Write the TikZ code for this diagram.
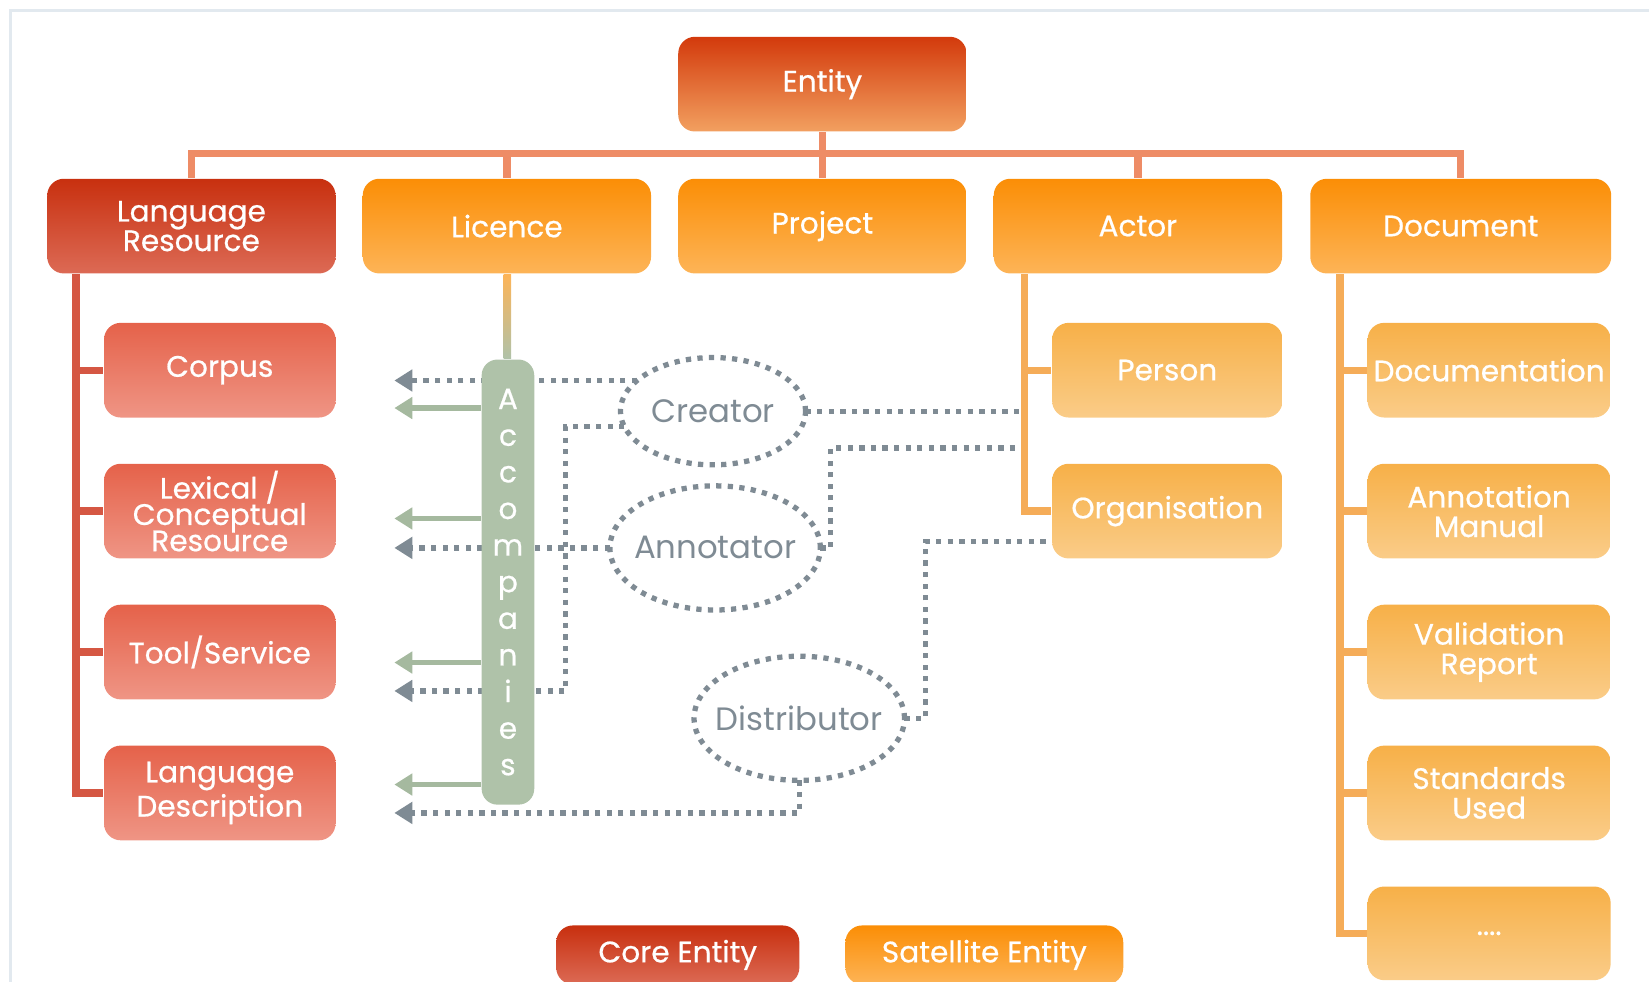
\documentclass[tikz,border=0pt]{standalone}
\usepackage{fontspec}
\setmainfont{Poppins}
\newfontfamily\boitefont{Poppins}[FakeBold=0.6]
\newcommand\serre{\lineskiplimit-5pt\relax}
\usetikzlibrary{arrows.meta,shapes.geometric,backgrounds}

\definecolor{rougeH}{HTML}{D33A0C}
\definecolor{rougeB}{HTML}{F2A060}
\definecolor{coeurH}{HTML}{C8300F}
\definecolor{coeurB}{HTML}{DC6A55}
\definecolor{satH}{HTML}{FB8E06}
\definecolor{satB}{HTML}{FDB457}
\definecolor{filsRH}{HTML}{E5624A}
\definecolor{filsRB}{HTML}{EF9585}
\definecolor{filsOH}{HTML}{F7B048}
\definecolor{filsOB}{HTML}{FACC88}
\definecolor{bus}{HTML}{EE8C66}
\definecolor{tigeR}{HTML}{D55743}
\definecolor{tigeO}{HTML}{F5AC58}
\definecolor{sauge}{HTML}{AFC2A9}
\definecolor{flecheV}{HTML}{A5B99F}
\definecolor{gris}{HTML}{7F8B94}
\definecolor{cadre}{HTML}{E2E9EF}

\tikzset{
  boite/.style={rounded corners=4.5pt, minimum height=0.9cm, inner sep=0pt,
    text=white, align=center, font=\boitefont\fontsize{8}{8}\selectfont},
  entite/.style={boite, top color=rougeH, bottom color=rougeB},
  coeur/.style={boite, top color=coeurH, bottom color=coeurB},
  satellite/.style={boite, top color=satH, bottom color=satB},
  filsR/.style={boite, minimum width=2.2cm, top color=filsRH, bottom color=filsRB},
  filsO/.style={boite, top color=filsOH, bottom color=filsOB},
  large/.style={minimum width=2.74cm},
  role/.style={ellipse, draw=gris, line width=0.05cm, dash pattern=on 0.05cm off 0.06cm,
    inner xsep=-0.15cm, inner ysep=0pt, outer sep=0pt, text=gris,
    font=\fontsize{8.75}{8.75}\selectfont},
  points/.style={gris, line width=0.05cm, dash pattern=on 0.05cm off 0.06cm},
  pointfleche/.style={points, -{Triangle[length=0.17cm, width=0.2cm]}},
  vertfleche/.style={flecheV, line width=0.05cm, -{Triangle[length=0.17cm, width=0.2cm]}},
  lien/.style={bus, line width=0.07cm},
}

\begin{document}
\begin{tikzpicture}[x=0.01cm, y=-0.01cm]
\useasboundingbox (0,0) rectangle (1568,933);
% cadre clair autour du schéma
\draw[cadre, line width=0.02cm] (10,940) -- (10,10) -- (1575,10);

% l'entité racine et la première rangée
\node[entite, large] (entity) at (782,80) {Entity};
\node[coeur, large] (lr) at (182,215) {Language\\Resource};
\node[satellite, large] (licence) at (482,215) {Licence};
\node[satellite, large] (project) at (782,215) {Project};
\node[satellite, large] (actor) at (1082,215) {Actor};
\node[satellite, minimum width=2.86cm] (document) at (1389,215) {Document};

% les sous-types de la ressource
\node[filsR, font=\boitefont\fontsize{8}{7.1}\selectfont\serre]
  (lexical) at (209,486) {Lexical /\\Conceptual\\Resource};
\node[filsR] (corpus) at (209,352) {Corpus};
\node[filsR] (tool) at (209,620) {Tool/Service};
\node[filsR] (langdesc) at (209,754) {Language\\Description};

% les acteurs
\node[filsO, minimum width=2.19cm] (person) at (1110,352) {Person};
\node[filsO, minimum width=2.19cm] (org) at (1110,486) {Organisation};

% les documents
\node[filsO, minimum width=2.31cm] (docu) at (1416,352) {Documentation};
\node[filsO, minimum width=2.31cm] (annot) at (1416,486) {Annotation\\Manual};
\node[filsO, minimum width=2.31cm] (valid) at (1416,620) {Validation\\Report};
\node[filsO, minimum width=2.31cm] (standards) at (1416,754) {Standards\\Used};
\node[filsO, minimum width=2.31cm, minimum height=0.89cm] (etc) at (1416,887.5) {....};

% la barre verticale Accompanies
\node[rounded corners=0.15cm, fill=sauge, minimum width=0.5cm, minimum height=4.23cm,
  inner sep=0pt, text=white, align=center, font=\boitefont\fontsize{8}{9.9}\selectfont]
  (acc) at (483,553.5) {A\\c\\c\\o\\m\\p\\a\\n\\i\\e\\s};

% les rôles
\node[role, minimum width=1.76cm, minimum height=1.02cm] (creator) at (678,391) {Creator};
\node[role, minimum width=2cm, minimum height=1.18cm] (annotator) at (680,521) {Annotator};
\node[role, minimum width=2cm, minimum height=1.18cm] (distributor) at (760,683) {Distributor};

% la légende
\node[coeur, minimum width=2.31cm, minimum height=0.56cm] (core) at (644.5,908) {Core Entity};
\node[satellite, minimum width=2.64cm, minimum height=0.56cm] (sat) at (936,908) {Satellite Entity};

% points utiles
\coordinate (bar) at (782,146);
\coordinate (pointes) at (375,0);
\coordinate (coinC) at (538,657);
\coordinate (coinA) at (790,426);
\coordinate (coinD) at (880,515);
\coordinate (basD) at (375,773);
\coordinate (tigeLR) at ([xshift=0.28cm]lr.south west);
\coordinate (tigeAc) at ([xshift=0.3cm]actor.south west);
\coordinate (tigeDoc) at ([xshift=0.29cm]document.south west);

\begin{pgfonlayer}{background}
% les pointillés des rôles
\draw[pointfleche] (creator.158) -- (creator.158 -| pointes);
\draw[pointfleche] (creator.190) -| (coinC) -- (coinC -| pointes);
\draw[pointfleche] (annotator.west) -- (annotator.west -| pointes);
\draw[pointfleche] (distributor.south) |- (basD);
\draw[points] (creator.east) -- (creator.east -| tigeAc);
\draw[points] (annotator.east) -| (coinA) -- (coinA -| tigeAc);
\draw[points] (distributor.east) -| (coinD) -- (coinD -| org.west);

% les flèches vertes
\foreach \y in {388,493,630,746}
  \draw[vertfleche] (acc.west |- 0,\y) -- (pointes |- 0,\y);

% l'arbre
\draw[lien] (entity.south) -- (bar);
\foreach \n in {lr,licence,project,actor,document}
  \draw[lien] (\n.north) |- (bar);
\draw[line width=0.06cm, top color=satB, bottom color=sauge, draw=none]
  ([xshift=-0.03cm]licence.south) rectangle ([xshift=0.03cm]acc.north);
\foreach \c in {corpus,lexical,tool,langdesc}
  \draw[tigeR, line width=0.07cm] (tigeLR) |- (\c.west);
\foreach \c in {person,org}
  \draw[tigeO, line width=0.07cm] (tigeAc) |- (\c.west);
\foreach \c in {docu,annot,valid,standards,etc}
  \draw[tigeO, line width=0.07cm] (tigeDoc) |- (\c.west);
\end{pgfonlayer}
\end{tikzpicture}
\end{document}
